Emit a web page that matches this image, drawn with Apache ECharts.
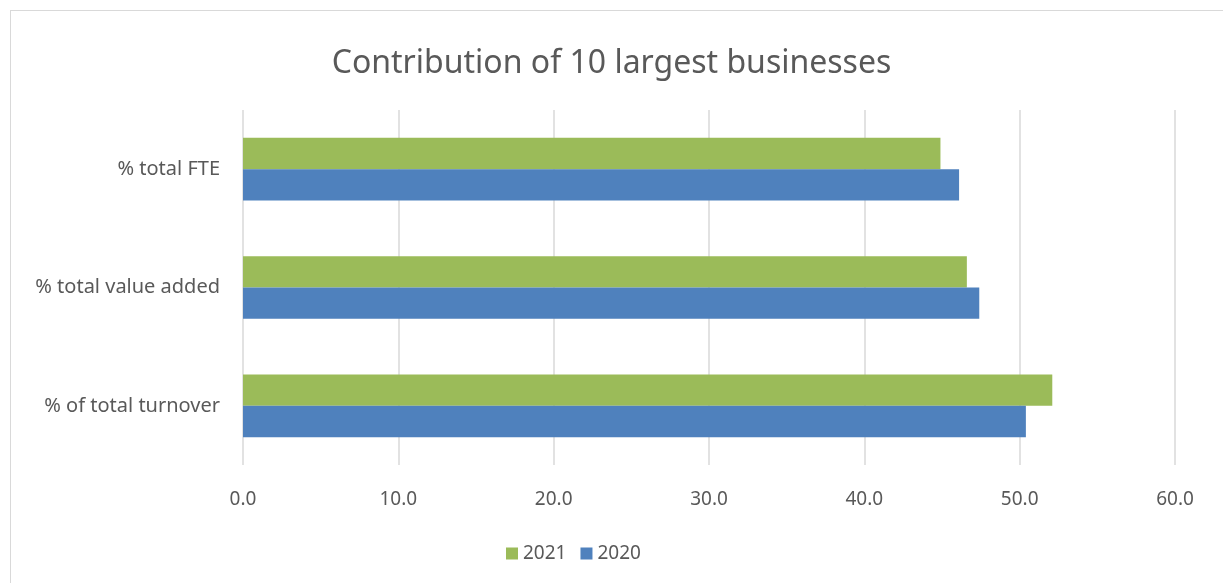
<!DOCTYPE html>
<html>
<head>
<meta charset="utf-8">
<script src="https://cdn.jsdelivr.net/npm/echarts@6/dist/echarts.min.js"></script>
<style>
  html, body { margin: 0; padding: 0; background: #fff; }
  #frame { position: absolute; left: 10px; top: 10px; width: 1240px; height: 600px; border: 1px solid #d9d9d9; }
  #chart { position: absolute; left: 0; top: 0; width: 1223px; height: 583px; }
</style>
</head>
<body>
<div id="frame"></div>
<div id="chart"></div>
<script>
// chart data
const categories = ['% of total turnover', '% total value added', '% total FTE']
const values2020 = [50.4, 47.4, 46.1]
const values2021 = [52.1, 46.6, 44.9]
const xTicks = [0, 10, 20, 30, 40, 50, 60]

const textColor = '#595959'
const font = '"Noto Sans", "Open Sans", sans-serif'

const chart = echarts.init(document.getElementById('chart'))

chart.setOption({
  animation: false,
  title: {
    text: 'Contribution of 10 largest businesses',
    left: 'center',
    top: 43,
    textStyle: { color: textColor, fontSize: 32, fontWeight: 'normal', fontFamily: font }
  },
  legend: {
    data: ['2021', '2020'],
    left: 501,
    top: 539,
    itemWidth: 12,
    itemHeight: 12,
    itemGap: 14,
    icon: 'rect',
    textStyle: { color: textColor, fontSize: 19, fontFamily: font }
  },
  grid: { left: 243, right: 48, top: 110, bottom: 118, containLabel: false },
  xAxis: {
    type: 'value',
    min: xTicks[0],
    max: xTicks[xTicks.length - 1],
    interval: 10,
    axisLine: { show: false },
    axisTick: { show: false },
    axisLabel: {
      color: textColor, fontSize: 19, fontFamily: font, margin: 25,
      formatter: v => v.toFixed(1)
    },
    splitLine: { show: true, lineStyle: { color: '#d9d9d9', width: 1.5 } }
  },
  yAxis: {
    type: 'category',
    data: categories,
    axisLine: { show: false },
    axisTick: { show: false },
    axisLabel: { color: textColor, fontSize: 20, fontFamily: font, margin: 23 }
  },
  series: [
    {
      name: '2021',
      type: 'bar',
      data: values2021,
      itemStyle: { color: '#9bbb59' },
      barGap: '0%',
      barCategoryGap: '47%'
    },
    {
      name: '2020',
      type: 'bar',
      data: values2020,
      itemStyle: { color: '#4f81bd' },
      barGap: '0%',
      barCategoryGap: '47%'
    }
  ]
})
</script>
</body>
</html>
